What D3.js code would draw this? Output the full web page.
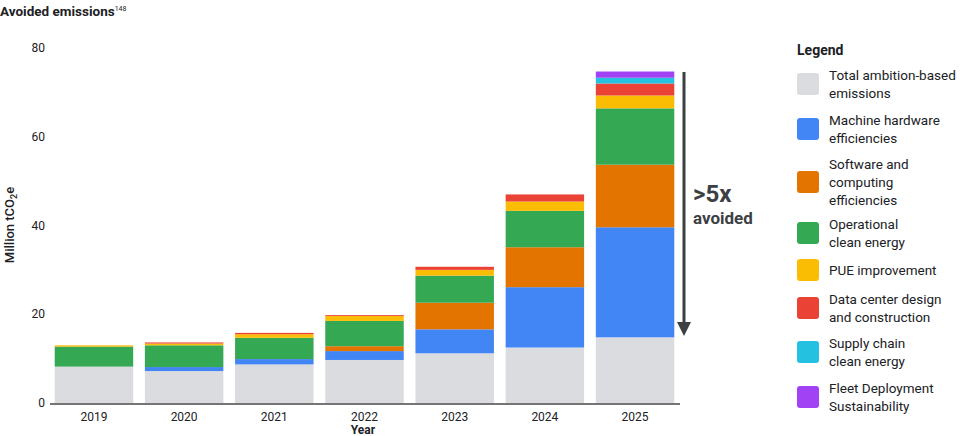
<!DOCTYPE html>
<html lang="en">
<head>
<meta charset="UTF-8">
<title>Avoided emissions</title>
<style>
  body { margin: 0; background: #fff; font-family: Roboto, "Noto Sans", Arial, sans-serif; }
  svg text { fill: #202124; }
</style>
</head>
<body>
<svg id="chart" width="980" height="436"></svg>
<script src="https://cdn.jsdelivr.net/npm/d3@7"></script>
<script>
var years = ["2019", "2020", "2021", "2022", "2023", "2024", "2025"];
var seriesNames = ["Total ambition-based emissions", "Machine hardware efficiencies",
  "Software and computing efficiencies", "Operational clean energy", "PUE improvement",
  "Data center design and construction", "Supply chain clean energy", "Fleet Deployment Sustainability"];
var legendLines = [["Total ambition-based", "emissions"], ["Machine hardware", "efficiencies"],
  ["Software and", "computing", "efficiencies"], ["Operational", "clean energy"], ["PUE improvement"],
  ["Data center design", "and construction"], ["Supply chain", "clean energy"], ["Fleet Deployment", "Sustainability"]];
var colors = ["#dadce0", "#4285f4", "#e37400", "#34a853", "#fbbc04", "#ea4335", "#24c1e0", "#a142f4"];
var total      = [8.2, 7.2, 8.7, 9.7, 11.2, 12.5, 14.8];
var hardware   = [0, 0.9, 1.2, 2.0, 5.4, 13.6, 24.8];
var software   = [0, 0, 0, 1.1, 6.0, 9.0, 14.1];
var operational= [4.5, 4.9, 4.8, 5.7, 6.1, 8.2, 12.7];
var pue        = [0.3, 0.4, 0.8, 1.1, 1.3, 2.1, 2.9];
var datacenter = [0, 0.25, 0.3, 0.2, 0.7, 1.6, 2.7];
var supply     = [0, 0, 0, 0, 0, 0, 1.3];
var fleet      = [0, 0, 0, 0, 0, 0, 1.4];
var yTicks = [0, 20, 40, 60, 80];

var series = [total, hardware, software, operational, pue, datacenter, supply, fleet];
var rows = years.map(function(y, i) {
  var r = {year: y};
  series.forEach(function(s, k) { r["s" + k] = s[i]; });
  return r;
});
var keys = series.map(function(s, k) { return "s" + k; });
var stacked = d3.stack().keys(keys)(rows);

var svg = d3.select("#chart");
var x = d3.scaleBand().domain(years).range([52, 677]).paddingInner(0.13).paddingOuter(0.03);
var y = d3.scaleLinear().domain([0, 80]).range([403, 48]);

svg.append("text").attr("x", 0).attr("y", 16).attr("font-size", 13.5).attr("font-weight", 700)
  .text("Avoided emissions")
  .append("tspan").attr("font-size", 7).attr("font-weight", 400).attr("dy", -5).text("148");

svg.append("g").selectAll("text").data(yTicks).join("text")
  .attr("x", 45).attr("y", function(d) { return y(d) + 4; })
  .attr("text-anchor", "end").attr("font-size", 12).text(function(d) { return d; });

svg.append("text").attr("transform", "translate(14,225) rotate(-90)")
  .attr("text-anchor", "middle").attr("font-size", 13).attr("font-weight", 500)
  .html('Million tCO<tspan font-size="9" dy="3">2</tspan><tspan dy="-3">e</tspan>');

svg.append("g").selectAll("g").data(stacked).join("g")
  .attr("fill", function(d, i) { return colors[i]; })
  .selectAll("rect").data(function(d) { return d; }).join("rect")
  .attr("x", function(d) { return x(d.data.year); })
  .attr("width", x.bandwidth())
  .attr("y", function(d) { return y(d[1]); })
  .attr("height", function(d) { return Math.max(0, y(d[0]) - y(d[1])); });

svg.append("line").attr("x1", 50).attr("x2", 680).attr("y1", 404).attr("y2", 404)
  .attr("stroke", "#757575").attr("stroke-width", 2);

svg.append("g").selectAll("text").data(years).join("text")
  .attr("x", function(d) { return x(d) + x.bandwidth() / 2; }).attr("y", 421)
  .attr("text-anchor", "middle").attr("font-size", 12).text(function(d) { return d; });

svg.append("text").attr("x", 363).attr("y", 434).attr("text-anchor", "middle")
  .attr("font-size", 12).attr("font-weight", 700).text("Year");

// arrow
svg.append("line").attr("x1", 684).attr("x2", 684).attr("y1", 72).attr("y2", 324)
  .attr("stroke", "#3c4043").attr("stroke-width", 3);
svg.append("path").attr("d", "M677,322 L691,322 L684,336 Z").attr("fill", "#3c4043");
svg.append("text").attr("x", 693).attr("y", 202).attr("font-size", 24).attr("font-weight", 700)
  .style("fill", "#3c4043").text(">5x");
svg.append("text").attr("x", 693).attr("y", 224).attr("font-size", 17).attr("font-weight", 700)
  .style("fill", "#3c4043").text("avoided");

// legend
var lg = svg.append("g");
lg.append("text").attr("x", 797).attr("y", 55).attr("font-size", 14).attr("font-weight", 700).text("Legend");
var itemTop = [66, 111, 155, 215, 261, 290, 334, 379];
seriesNames.forEach(function(n, i) {
  var lines = legendLines[i];
  var h = lines.length * 18;
  lg.append("rect").attr("x", 797).attr("y", itemTop[i] + h / 2 - 11).attr("width", 22).attr("height", 22)
    .attr("rx", 3).attr("fill", colors[i]);
  lines.forEach(function(t, j) {
    lg.append("text").attr("x", 829).attr("y", itemTop[i] + 14 + j * 18)
      .attr("font-size", 13.5).text(t);
  });
});
</script>
</body>
</html>
